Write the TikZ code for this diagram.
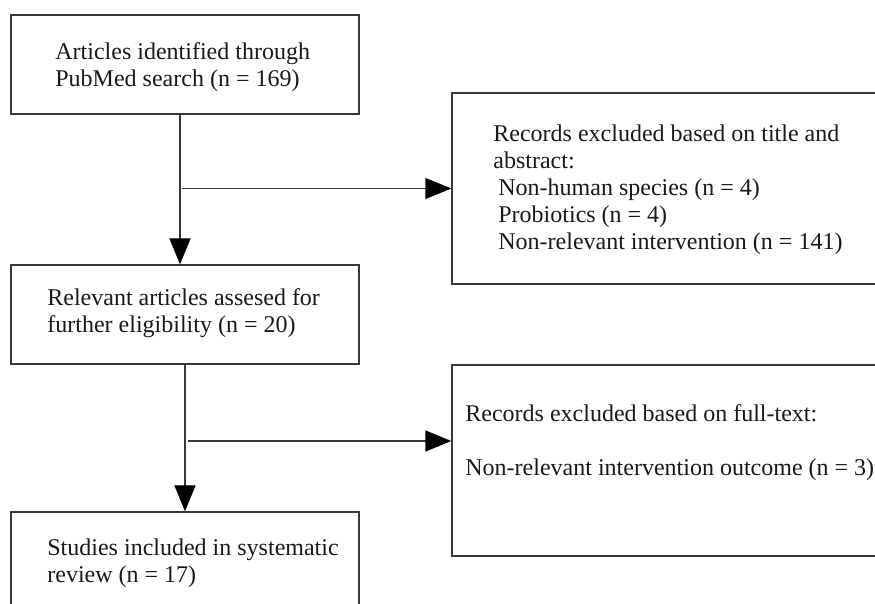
\documentclass[tikz,border=0pt]{standalone}
\usepackage{fontspec}
\setmainfont{Liberation Serif}
\usetikzlibrary{
  arrows.meta,
  calc,
  positioning
}
\colorlet{ink}{black!78}
\tikzset{
  arrow/.style={-{Triangle[length=13pt,width=10.5pt,color=black]}, draw=ink, line width=0.65pt},
  flowbox/.style={
    draw=ink,
    line width=0.65pt,
    minimum width=174pt,
    minimum height=49.5pt,
    inner sep=0pt
  },
  sidebox/.style={
    flowbox,
    minimum width=214pt,
    minimum height=95.5pt
  },
  boxtext/.style={
    anchor=west,
    align=left,
    inner sep=0pt,
    font=\fontsize{12pt}{13.5pt}\selectfont,
    text=black!90
  }
}

\begin{document}
\begin{tikzpicture}[x=0.5pt,y=-0.5pt]
  \useasboundingbox (0,0) rectangle (875,604);
  \clip (0,0) rectangle (875,604);

  \node[flowbox] (identified) at (185,64.5) {};
  \node[boxtext] (identifiedtext) at (55,67) {Articles identified through\\PubMed search (n = 169)};

  \node[sidebox] (screenout) at (666,188.5) {};
  \node[boxtext] (screentext) at (493,189.5) {Records excluded based on title and\\abstract:\\\hspace*{2.5pt}Non-human species (n = 4)\\\hspace*{2.5pt}Probiotics (n = 4)\\\hspace*{2.5pt}Non-relevant intervention (n = 141)};

  \node[flowbox] (assessed) at (185,314.5) {};
  \node[boxtext] (assessedtext) at (47,313.5) {Relevant articles assesed for\\further eligibility (n = 20)};

  \node[sidebox] (fulltextout) at (666,460.5) {};
  \node[boxtext] (fulltexttext) at (465,442.5) {Records excluded based on full-text:\\[13.5pt]Non-relevant intervention outcome (n = 3)};

  \node[flowbox] (included) at (185,561.5) {};
  \node[boxtext] (includedtext) at (47,563) {Studies included in systematic\\review (n = 17)};

  \draw[arrow] ([xshift=-2.5pt]identified.south) -- ([xshift=-2.5pt]assessed.north);
  \draw[arrow] ($(screenout.west -| identified.south)+(-3,0)$) -- (screenout.west);
  \draw[arrow] (assessed.south) -- (included.north);
  \draw[arrow] ($(fulltextout.west -| assessed.south)+(3,-19.5)$) -- ($(fulltextout.west)+(0,-19.5)$);
\end{tikzpicture}
\end{document}
